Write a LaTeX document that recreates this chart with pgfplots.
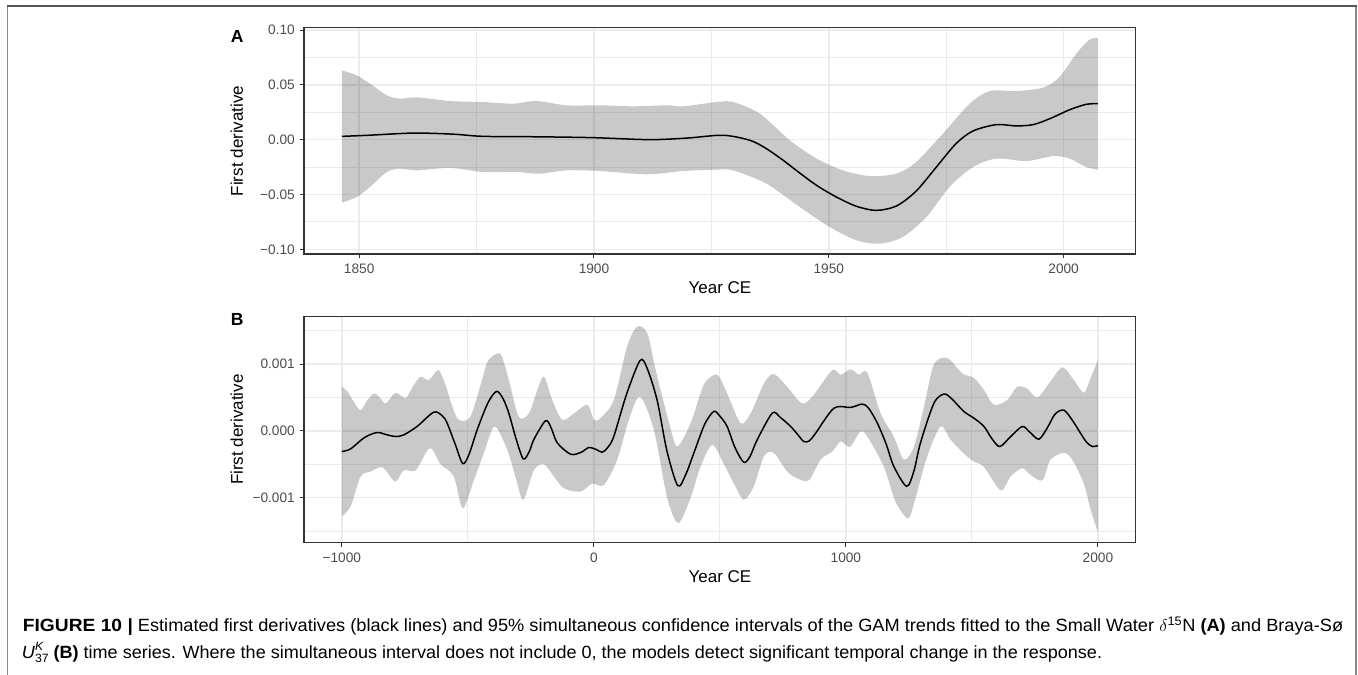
\documentclass[border=0pt]{standalone}
\usepackage{fontspec}
\setmainfont{Liberation Sans}
\usepackage{graphicx}
\usepackage{pgfplots}
\pgfplotsset{compat=1.18}
\definecolor{grid92}{HTML}{EBEBEB}
\definecolor{gray20}{HTML}{333333}
\definecolor{gray30}{HTML}{4D4D4D}
\definecolor{framegray}{HTML}{8A8A8A}
\definecolor{topgray}{HTML}{555555}

\pgfplotsset{gg/.style={
  scale only axis, width=831.7bp,
  axis line style={gray20, line width=1.1bp},
  tick style={gray20, line width=1bp},
  major tick length=4bp,
  tick align=outside, xtick pos=bottom, ytick pos=left,
  xmajorgrids, ymajorgrids, xminorgrids, yminorgrids,
  major grid style={grid92, line width=1.5bp},
  minor grid style={grid92, line width=0.8bp},
  minor tick style={draw=none},
  ticklabel style={font=\fontsize{13.7bp}{16bp}\selectfont, text=gray30},
  xticklabel style={anchor=base, yshift=-15.3bp},
  yticklabel style={anchor=east, inner sep=0pt, xshift=-5bp},
  scaled ticks=false,
}}
\newcommand{\axtitle}{\fontsize{17bp}{20bp}\selectfont}
\newcommand{\capsize}{\fontsize{17.7bp}{21bp}\selectfont}

\begin{document}
\begin{tikzpicture}
\path[use as bounding box] (0,0) rectangle (1358bp,-675bp);
% frame
\draw[framegray, line width=1.4bp] (7.3bp,-6bp) -- (7.3bp,-676bp);
\draw[framegray, line width=1.4bp] (1356bp,-6bp) -- (1356bp,-676bp);
\draw[topgray, line width=1.3bp] (6.6bp,-6bp) -- (1356.7bp,-6bp);

% ---------------- Panel A ----------------
\begin{axis}[gg, at={(304bp,-254bp)}, anchor=south west, height=226.3bp,
  xmin=1838.25, xmax=2015.35, ymin=-0.1043, ymax=0.1021,
  xtick={1850,1900,1950,2000}, xticklabels={1850,1900,1950,2000},
  minor xtick={1875,1925,1975},
  ytick={-0.1,-0.05,0,0.05,0.1}, yticklabels={−0.10,−0.05,0.00,0.05,0.10},
  minor ytick={-0.075,-0.025,0.025,0.075}]
% confidence band: upper limit forward, then lower limit backward
\addplot[fill=black, fill opacity=0.21, draw=none, smooth] coordinates {
(1846.3,0.0632) (1849.5,0.0586) (1852.3,0.0510) (1855.9,0.0404) (1858.7,0.0374)
(1862.3,0.0386) (1869.4,0.0352) (1876.4,0.0343) (1882.8,0.0328) (1887.8,0.0352)
(1894.2,0.0313) (1901.3,0.0313) (1908.4,0.0304) (1915.5,0.0313) (1919,0.0304)
(1926.1,0.0343) (1929.6,0.0343) (1935.3,0.0237) (1941.7,-0.0006) (1947.4,-0.0173)
(1953,-0.0280) (1958.7,-0.0332) (1964.4,-0.0310) (1968.6,-0.0204) (1974.3,0.0055)
(1980,0.0328) (1984.3,0.0443) (1990,0.0443) (1995.6,0.0474) (1999.1,0.0570)
(2002.7,0.0784) (2005.5,0.0912) (2007.3,0.0927)}
 -- plot[smooth] coordinates {
(2007.3,-0.0274) (2004.8,-0.0250) (2001.3,-0.0173) (1997.8,-0.0150) (1992.1,-0.0195)
(1985.7,-0.0173) (1980.7,-0.0250) (1975.7,-0.0432) (1970.8,-0.0705) (1965.8,-0.0887)
(1960.9,-0.0948) (1955.9,-0.0918) (1950.2,-0.0797) (1943.8,-0.0614) (1936.7,-0.0401)
(1929.6,-0.0280) (1926.1,-0.0274) (1919,-0.0286) (1911.2,-0.0316) (1901.3,-0.0286)
(1894.2,-0.0280) (1888.5,-0.0310) (1883.5,-0.0295) (1876.4,-0.0295) (1869.4,-0.0258)
(1862.3,-0.0280) (1858.7,-0.0265) (1855.9,-0.0295) (1852.3,-0.0432) (1849.5,-0.0523)
(1846.3,-0.0575)};
\addplot[black, line width=1.5bp, smooth] coordinates {
(1846.3,0.0030) (1852,0.0040) (1861.6,0.0060) (1870,0.0050) (1876.4,0.0030)
(1888,0.0026) (1899.9,0.0018) (1911.9,0.0000) (1920,0.0015) (1927.5,0.0040)
(1933.2,-0.0006) (1936.7,-0.0082) (1940.3,-0.0189) (1943.8,-0.0304) (1947.4,-0.0417)
(1951.6,-0.0523) (1955.9,-0.0608) (1960.1,-0.0645) (1964.4,-0.0605) (1968.6,-0.0469)
(1972.9,-0.0250) (1977.1,-0.0036) (1980.7,0.0079) (1985.7,0.0137) (1989.9,0.0125)
(1993.5,0.0137) (1997,0.0190) (2001.3,0.0273) (2004.8,0.0322) (2007.3,0.0328)};
\end{axis}

% ---------------- Panel B ----------------
\begin{axis}[gg, at={(304bp,-542.7bp)}, anchor=south west, height=226bp,
  xmin=-1150, xmax=2150, ymin=-0.001674, ymax=0.001708,
  xtick={-1000,0,1000,2000}, xticklabels={−1000,0,1000,2000},
  minor xtick={-500,500,1500},
  ytick={-0.001,0,0.001}, yticklabels={−0.001,0.000,0.001},
  minor ytick={-0.0015,-0.0005,0.0005,0.0015}]
\addplot[fill=black, fill opacity=0.21, draw=none, smooth] coordinates {
(-1000,0.66e-3) (-978,0.59e-3) (-950,0.42e-3) (-925,0.31e-3) (-900,0.45e-3)
(-872,0.56e-3) (-850,0.50e-3) (-826,0.41e-3) (-787,0.57e-3) (-747,0.49e-3)
(-720,0.65e-3) (-688,0.81e-3) (-655,0.76e-3) (-619,0.91e-3) (-600,0.80e-3)
(-582,0.61e-3) (-560,0.35e-3) (-536,0.165e-3) (-490,0.21e-3) (-444,0.76e-3)
(-418,1.06e-3) (-374,1.16e-3) (-355,1.00e-3) (-337,0.76e-3) (-298,0.21e-3)
(-258,0.26e-3) (-225,0.60e-3) (-198,0.81e-3) (-165,0.46e-3) (-125,0.165e-3)
(-79,0.26e-3) (-26,0.39e-3) (0,0.165e-3) (26,0.19e-3) (79,0.46e-3)
(132,1.26e-3) (172,1.56e-3) (212,1.46e-3) (240,1.00e-3) (265,0.61e-3)
(300,0.10e-3) (331,-0.235e-3) (384,0.115e-3) (423,0.56e-3) (445,0.74e-3)
(490,0.84e-3) (529,0.56e-3) (582,0.115e-3) (622,0.26e-3) (675,0.71e-3)
(714,0.85e-3) (767,0.66e-3) (827,0.41e-3) (873,0.54e-3) (946,0.91e-3)
(979,0.84e-3) (1019,0.92e-3) (1052,0.84e-3) (1085,0.87e-3) (1138,0.26e-3)
(1190,-0.085e-3) (1230,-0.43e-3) (1270,-0.235e-3) (1310,0.36e-3) (1349,0.99e-3)
(1402,1.09e-3) (1462,0.86e-3) (1508,0.79e-3) (1548,0.61e-3) (1587,0.39e-3)
(1640,0.46e-3) (1680,0.66e-3) (1720,0.63e-3) (1760,0.50e-3) (1812,0.74e-3)
(1859,0.95e-3) (1905,0.76e-3) (1944,0.57e-3) (1971,0.79e-3) (2000,1.06e-3)}
 -- plot[smooth] coordinates {
(2000,-1.51e-3) (1971,-1.18e-3) (1944,-0.79e-3) (1898,-0.43e-3) (1865,-0.33e-3)
(1812,-0.43e-3) (1780,-0.74e-3) (1733,-0.66e-3) (1700,-0.56e-3) (1654,-0.68e-3)
(1614,-0.89e-3) (1548,-0.54e-3) (1508,-0.46e-3) (1468,-0.34e-3) (1415,-0.13e-3)
(1376,0.065e-3) (1323,-0.38e-3) (1270,-1.09e-3) (1246,-1.31e-3) (1197,-1.06e-3)
(1151,-0.54e-3) (1085,-0.085e-3) (1058,-0.01e-3) (1016,-0.24e-3) (979,-0.16e-3)
(946,-0.31e-3) (900,-0.43e-3) (853,-0.74e-3) (807,-0.71e-3) (767,-0.61e-3)
(714,-0.33e-3) (675,-0.38e-3) (635,-0.83e-3) (595,-1.03e-3) (556,-0.79e-3)
(516,-0.50e-3) (470,-0.21e-3) (423,-0.54e-3) (384,-1.00e-3) (335,-1.38e-3)
(291,-1.00e-3) (238,0.015e-3) (183,0.51e-3) (139,0.165e-3) (93,-0.43e-3)
(40,-0.81e-3) (-7,-0.79e-3) (-53,-0.91e-3) (-119,-0.86e-3) (-159,-0.68e-3)
(-198,-0.50e-3) (-238,-0.59e-3) (-280,-1.03e-3) (-310,-0.70e-3) (-344,-0.28e-3)
(-394,0.065e-3) (-437,-0.34e-3) (-476,-0.74e-3) (-520,-1.16e-3) (-556,-0.68e-3)
(-608,-0.50e-3) (-651,-0.26e-3) (-707,-0.59e-3) (-754,-0.59e-3) (-787,-0.76e-3)
(-826,-0.59e-3) (-846,-0.54e-3) (-886,-0.61e-3) (-925,-0.68e-3) (-965,-1.13e-3)
(-1000,-1.28e-3)};
\addplot[black, line width=1.5bp, smooth] coordinates {
(-1000,-0.31e-3) (-965,-0.27e-3) (-910,-0.10e-3) (-860,-0.025e-3) (-820,-0.06e-3)
(-787,-0.085e-3) (-754,-0.06e-3) (-700,0.07e-3) (-635,0.28e-3) (-600,0.22e-3)
(-582,0.115e-3) (-550,-0.20e-3) (-520,-0.49e-3) (-495,-0.35e-3) (-463,0.015e-3)
(-420,0.42e-3) (-386,0.59e-3) (-360,0.48e-3) (-337,0.26e-3) (-310,-0.10e-3)
(-280,-0.42e-3) (-255,-0.30e-3) (-238,-0.13e-3) (-192,0.15e-3) (-170,0.05e-3)
(-145,-0.18e-3) (-92,-0.35e-3) (-50,-0.32e-3) (-20,-0.25e-3) (10,-0.28e-3)
(33,-0.32e-3) (55,-0.25e-3) (79,-0.085e-3) (130,0.55e-3) (183,1.05e-3)
(210,0.95e-3) (251,0.46e-3) (290,-0.30e-3) (333,-0.82e-3) (365,-0.65e-3)
(397,-0.33e-3) (440,0.10e-3) (476,0.29e-3) (500,0.22e-3) (529,0.065e-3)
(560,-0.25e-3) (595,-0.47e-3) (620,-0.38e-3) (648,-0.135e-3) (708,0.265e-3)
(740,0.20e-3) (781,0.065e-3) (810,-0.06e-3) (833,-0.16e-3) (855,-0.15e-3)
(880,-0.035e-3) (953,0.34e-3) (1019,0.35e-3) (1065,0.40e-3) (1090,0.34e-3)
(1125,0.115e-3) (1160,-0.20e-3) (1190,-0.53e-3) (1241,-0.83e-3) (1270,-0.60e-3)
(1296,-0.18e-3) (1349,0.41e-3) (1389,0.55e-3) (1420,0.48e-3) (1468,0.29e-3)
(1508,0.19e-3) (1548,0.065e-3) (1580,-0.12e-3) (1611,-0.235e-3) (1654,-0.085e-3)
(1700,0.065e-3) (1730,-0.02e-3) (1766,-0.125e-3) (1800,0.05e-3) (1830,0.25e-3)
(1865,0.31e-3) (1900,0.15e-3) (1931,-0.035e-3) (1955,-0.17e-3) (1978,-0.235e-3)
(2000,-0.22e-3)};
\end{axis}

% titles and panel letters
\node[anchor=base west, inner sep=0pt, font=\bfseries\fontsize{17.5bp}{20bp}\selectfont] at (230.7bp,-42.7bp) {A};
\node[anchor=base west, inner sep=0pt, font=\bfseries\fontsize{17.5bp}{20bp}\selectfont] at (230.7bp,-325bp) {B};
\node[rotate=90, inner sep=0pt, font=\axtitle] at (236.7bp,-140.9bp) {First derivative};
\node[rotate=90, inner sep=0pt, font=\axtitle] at (236.7bp,-429.7bp) {First derivative};
\node[anchor=base, inner sep=0pt, font=\axtitle] at (719.9bp,-293.7bp) {Year CE};
\node[anchor=base, inner sep=0pt, font=\axtitle] at (719.9bp,-582bp) {Year CE};

% caption
\node[anchor=base west, inner sep=0pt] at (22.7bp,-631.3bp) {\resizebox{110bp}{\height}{\capsize\textbf{FIGURE 10 |}}};
\node[anchor=base west, inner sep=0pt] at (137.7bp,-631.3bp) {\resizebox{1205.3bp}{\height}{\capsize Estimated first derivatives (black lines) and 95\% simultaneous confidence intervals of the GAM trends fitted to the Small Water $\delta$\textsuperscript{15}N \textbf{(A)} and Braya-Sø}};
\node[anchor=base west, inner sep=0pt] at (21.7bp,-658bp) {\resizebox{1080.3bp}{\height}{\capsize\textit{U}\rlap{\raisebox{0.75ex}{\fontsize{12bp}{13bp}\selectfont\textit{K}}}\raisebox{-0.45ex}{\fontsize{12bp}{13bp}\selectfont 37} \textbf{(B)} time series. Where the simultaneous interval does not include 0, the models detect significant temporal change in the response.}};
\end{tikzpicture}
\end{document}
